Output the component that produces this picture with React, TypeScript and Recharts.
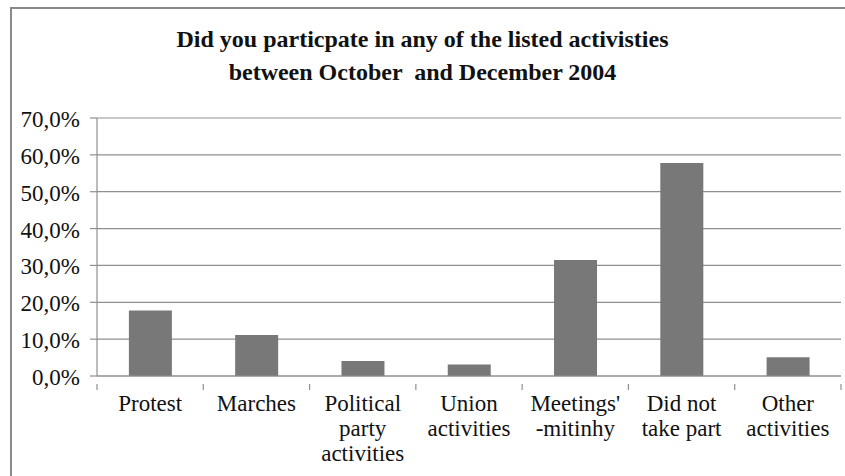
import React from "react";
import { BarChart, Bar, XAxis, YAxis, CartesianGrid } from "recharts";

const categories = [
  "Protest",
  "Marches",
  "Political\nparty\nactivities",
  "Union\nactivities",
  "Meetings'\n-mitinhy",
  "Did not\ntake part",
  "Other\nactivities",
];
const shares = [17.8, 11.1, 4.1, 3.1, 31.5, 57.8, 5.1];
const yTicks = [0, 10, 20, 30, 40, 50, 60, 70];
const titleLines = [
  "Did you particpate in any of the listed activisties",
  "between October  and December 2004",
];

const data = categories.map((c, i) => ({ name: c, value: shares[i] }));

const FONT = "'Liberation Serif', serif";
const AXIS = "#8f8f8f";

const CatTick = (props: any) => {
  const { x, y, payload, index, visibleTicksCount } = props;
  const lines = String(payload.value).split("\n");
  const half = payload.offset || 0;
  const isLast = index === (visibleTicksCount ?? categories.length) - 1;
  return (
    <g>
      <line x1={x - half} x2={x - half} y1={y} y2={y + 6} stroke={AXIS} strokeWidth={1.2} />
      {isLast && (
        <line x1={x + half} x2={x + half} y1={y} y2={y + 6} stroke={AXIS} strokeWidth={1.2} />
      )}
      {lines.map((l, i) => (
        <text
          key={i}
          x={x}
          y={y + 27 + i * 25}
          textAnchor="middle"
          fontFamily={FONT}
          fontSize={23}
          fill="#111"
        >
          {l}
        </text>
      ))}
    </g>
  );
};

const YTick = (props: any) => {
  const { x, y, payload } = props;
  return (
    <text x={x} y={y + 9} textAnchor="end" fontFamily={FONT} fontSize={23} fill="#111">
      {fmt(payload.value)}
    </text>
  );
};

const fmt = (v: number) => `${v.toFixed(1).replace(".", ",")}%`;

export default function App() {
  return (
    <div style={{ position: "absolute", left: 0, top: 0, width: 845, height: 476, background: "#fff", overflow: "hidden" }}>
      <div
        style={{
          position: "absolute",
          left: 10,
          top: 7,
          width: 845,
          height: 480,
          borderLeft: "2px solid #8a8a8a",
          borderTop: "2px solid #8a8a8a",
        }}
      />
      <div
        style={{
          position: "absolute",
          left: 0,
          top: 23,
          width: 845,
          textAlign: "center",
          fontFamily: FONT,
          fontWeight: "bold",
          fontSize: 24,
          lineHeight: "33px",
          color: "#111",
        }}
      >
        {titleLines.map((t, i) => (
          <div key={i} style={{ whiteSpace: "pre" }}>{t}</div>
        ))}
      </div>
      <div style={{ position: "absolute", left: 0, top: 0 }}>
        <BarChart
          width={845}
          height={476}
          data={data}
          margin={{ top: 118, right: 4, left: 0, bottom: 0 }}
          barCategoryGap="30%"
        >
          <CartesianGrid vertical={false} stroke={AXIS} strokeWidth={1.2} />
          <XAxis
            dataKey="name"
            height={100}
            interval={0}
            tickLine={false}
            axisLine={{ stroke: AXIS, strokeWidth: 1.2 }}
            tick={<CatTick />}
          />
          <YAxis
            width={97}
            domain={[0, 70]}
            ticks={yTicks}
            tickSize={7}
            tickMargin={10}
            axisLine={{ stroke: AXIS, strokeWidth: 1.2 }}
            tickLine={{ stroke: AXIS, strokeWidth: 1.2 }}
            tick={<YTick />}
          />
          <Bar dataKey="value" fill="#787878" isAnimationActive={false} />
        </BarChart>
      </div>
    </div>
  );
}
